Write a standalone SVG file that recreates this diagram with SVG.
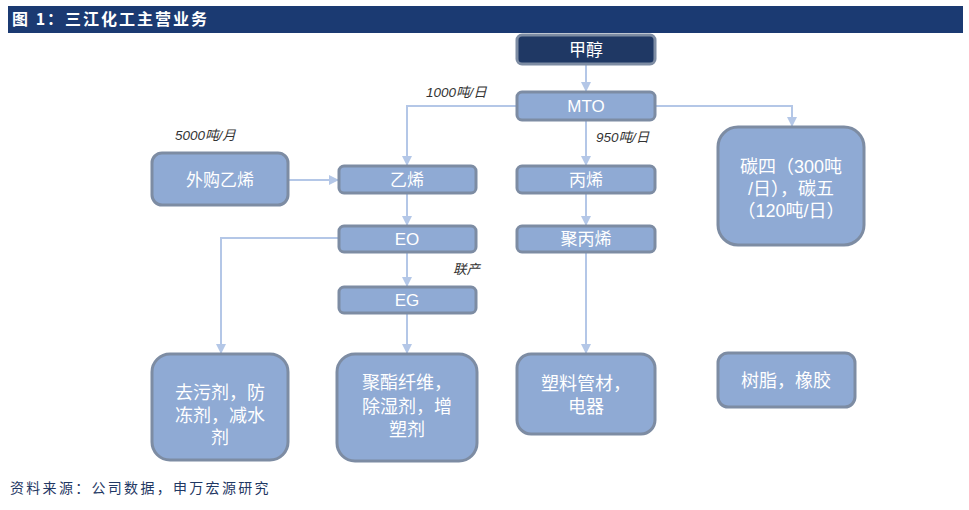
<svg xmlns="http://www.w3.org/2000/svg" width="969" height="510" viewBox="0 0 969 510">
<style>
.node{fill:#8FAAD4;stroke:#7D8CA3;stroke-width:3}
.dark{fill:#1F3864;stroke:#7D8CA3;stroke-width:3}
.nt{fill:#fff;font-family:"Liberation Sans","Noto Sans CJK SC",sans-serif;font-size:17px;text-anchor:middle}
.bt{fill:#fff;font-family:"Liberation Sans","Noto Sans CJK SC",sans-serif;font-size:18px;text-anchor:middle}
.lbl{fill:#333;font-family:"Liberation Sans","Noto Sans CJK SC",sans-serif;font-size:13.5px;font-style:italic}
.con{fill:none;stroke:#B4C7E7;stroke-width:2}
</style>
<defs>
<marker id="ah" markerWidth="10" markerHeight="10" refX="9" refY="5" orient="auto" markerUnits="userSpaceOnUse">
<path d="M0,0 L10,5 L0,10 Z" fill="#B4C7E7"/>
</marker>
</defs>
<rect width="969" height="510" fill="#fff"/>
<g id="title">
<rect x="8" y="6" width="955" height="27" fill="#1B3A72"/>
<text x="12" y="25" fill="#fff" font-family="'Noto Sans CJK SC',sans-serif" font-size="16" font-weight="bold" letter-spacing="2">图 1：三江化工主营业务</text>
</g>
<g id="connectors">
<path class="con" d="M586,64 V91" marker-end="url(#ah)"/>
<path class="con" d="M517,106 H407 V165" marker-end="url(#ah)"/>
<path class="con" d="M655,106 H792 V126" marker-end="url(#ah)"/>
<path class="con" d="M586,120 V165" marker-end="url(#ah)"/>
<path class="con" d="M288,180 H338" marker-end="url(#ah)"/>
<path class="con" d="M407,193 V225" marker-end="url(#ah)"/>
<path class="con" d="M586,193 V225" marker-end="url(#ah)"/>
<path class="con" d="M339,238 H221 V353" marker-end="url(#ah)"/>
<path class="con" d="M407,252 V286" marker-end="url(#ah)"/>
<path class="con" d="M407,313 V353" marker-end="url(#ah)"/>
<path class="con" d="M586,252 V353" marker-end="url(#ah)"/>
</g>
<g id="labels">
<text class="lbl" x="426" y="97">1000吨/日</text>
<text class="lbl" x="596" y="142">950吨/日</text>
<text class="lbl" x="175" y="140">5000吨/月</text>
<text class="lbl" x="453" y="274">联产</text>
</g>
<g id="n-methanol"><rect class="dark" x="517" y="35" width="138" height="29" rx="5"/><text class="nt" x="586" y="56">甲醇</text></g>
<g id="n-mto"><rect class="node" x="517" y="92" width="138" height="28" rx="5"/><text class="nt" x="586" y="112" font-size="15">MTO</text></g>
<g id="n-buy"><rect class="node" x="152" y="153" width="136" height="52" rx="10"/><text class="nt" x="220" y="186">外购乙烯</text></g>
<g id="n-ethylene"><rect class="node" x="339" y="166" width="137" height="27" rx="5"/><text class="nt" x="407" y="186">乙烯</text></g>
<g id="n-propylene"><rect class="node" x="517" y="166" width="138" height="27" rx="5"/><text class="nt" x="586" y="186">丙烯</text></g>
<g id="n-c4c5"><rect class="node" x="718" y="127" width="146" height="118" rx="20"/>
<text class="bt" x="791" y="173">碳四（300吨</text><text class="bt" x="791" y="195">/日），碳五</text><text class="bt" x="791" y="217">（120吨/日）</text></g>
<g id="n-eo"><rect class="node" x="339" y="226" width="137" height="26" rx="5"/><text class="nt" x="407" y="245" font-size="15">EO</text></g>
<g id="n-pp"><rect class="node" x="517" y="226" width="138" height="26" rx="5"/><text class="nt" x="586" y="245">聚丙烯</text></g>
<g id="n-eg"><rect class="node" x="339" y="287" width="137" height="26" rx="5"/><text class="nt" x="407" y="306" font-size="15">EG</text></g>
<g id="n-detergent"><rect class="node" x="152" y="354" width="136" height="106" rx="18"/>
<text class="bt" x="220" y="399">去污剂，防</text><text class="bt" x="220" y="422">冻剂，减水</text><text class="bt" x="220" y="444">剂</text></g>
<g id="n-polyester"><rect class="node" x="337" y="354" width="140" height="107" rx="18"/>
<text class="bt" x="407" y="389">聚酯纤维，</text><text class="bt" x="407" y="413">除湿剂，增</text><text class="bt" x="407" y="436">塑剂</text></g>
<g id="n-plastic"><rect class="node" x="517" y="354" width="138" height="80" rx="14"/>
<text class="bt" x="586" y="390">塑料管材，</text><text class="bt" x="586" y="413">电器</text></g>
<g id="n-resin"><rect class="node" x="718" y="353" width="137" height="54" rx="10"/>
<text class="bt" x="786" y="387">树脂，橡胶</text></g>
<g id="footer">
<text x="10" y="493" fill="#1F3864" font-family="'Noto Sans CJK SC',sans-serif" font-size="14" letter-spacing="2.3">资料来源：公司数据，申万宏源研究</text>
</g>
</svg>
